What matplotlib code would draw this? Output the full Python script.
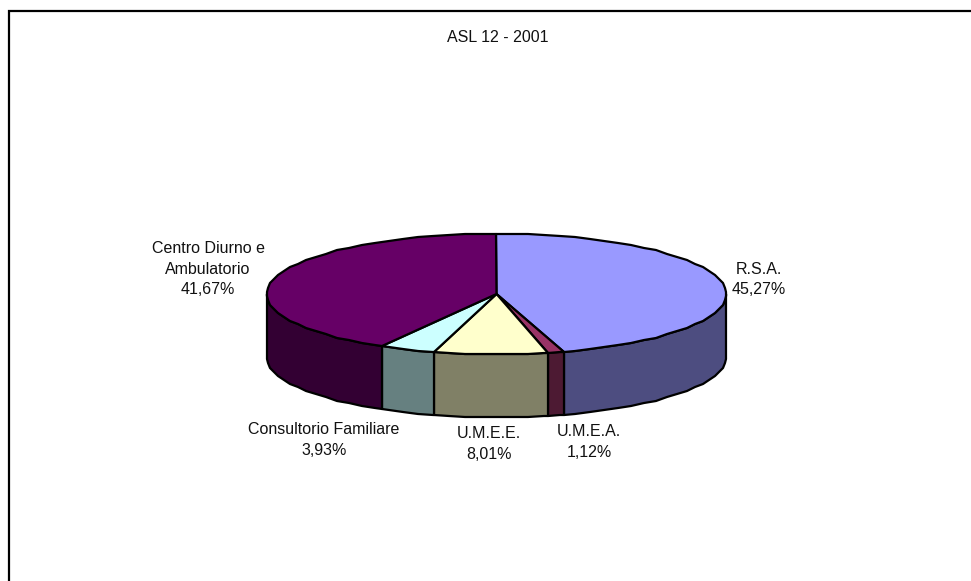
import numpy as np
import matplotlib
matplotlib.use('Agg')
import matplotlib.pyplot as plt
from matplotlib.patches import Polygon

# slices, clockwise from 12 o'clock
labels = ['R.S.A.', 'U.M.E.A.', 'U.M.E.E.', 'Consultorio Familiare', 'Centro Diurno e\nAmbulatorio']
values = [45.27, 1.12, 8.01, 3.93, 41.67]
value_labels = ['45,27%', '1,12%', '8,01%', '3,93%', '41,67%']
title = 'ASL 12 - 2001'

top_colors = ['#9999FF', '#993366', '#FFFFCC', '#CCFFFF', '#660066']
side_colors = ['#4D4D80', '#4D1A33', '#808066', '#668080', '#330033']

# layout in image pixels
cx, cy = 496.5, 294
rx, ry = 229.5, 60.5
depth = 63
label_pos = [(759, 279.5), (589, 442), (489, 444), (324, 440), (208, 269)]
W, H = 971, 581

plt.rcParams['font.family'] = ['Liberation Sans', 'DejaVu Sans']

fig = plt.figure(figsize=(W / 100, H / 100), dpi=100)
ax = fig.add_axes([0, 0, 1, 1])
ax.set_xlim(0, W)
ax.set_ylim(H, 0)
ax.axis('off')


def rim(t0, t1):
    # points along the top ellipse, t in degrees clockwise from the top
    # coarse steps, the original curve is faceted
    inner = np.arange(np.ceil(t0 / 4) * 4, t1, 4)
    t = np.radians(np.concatenate([[t0], inner, [t1]]))
    return np.round(np.column_stack([cx + rx * np.sin(t), cy - ry * np.cos(t)]))


edges = np.concatenate([[0], np.cumsum(values)]) / sum(values) * 360

# sides first, only the front half of the pie shows
for i in range(len(values)):
    a = max(edges[i], 90)
    b = min(edges[i + 1], 270)
    if b <= a:
        continue
    upper = rim(a, b)
    lower = upper[::-1] + [0, depth]
    ax.add_patch(Polygon(np.vstack([upper, lower]), closed=True, fc=side_colors[i],
                         ec='black', lw=1.6, joinstyle='round'))

# top faces
for i in range(len(values)):
    pts = np.vstack([[cx, cy], rim(edges[i], edges[i + 1])])
    ax.add_patch(Polygon(pts, closed=True, fc=top_colors[i], ec='black', lw=1.6,
                         joinstyle='round'))

for (x, y), name, val in zip(label_pos, labels, value_labels):
    ax.text(x, y, name + '\n' + val, ha='center', va='center', fontsize=11.5,
            linespacing=1.43, color='#111111')

ax.text(498, 38, title, ha='center', va='center', fontsize=11.5, color='#111111')

# chart frame only reaches the picture on the top and left
ax.plot([9, 9, W], [H, 11, 11], color='black', lw=1.6, solid_joinstyle='miter', clip_on=False)

fig.savefig('out.png', dpi=100, facecolor='white')
